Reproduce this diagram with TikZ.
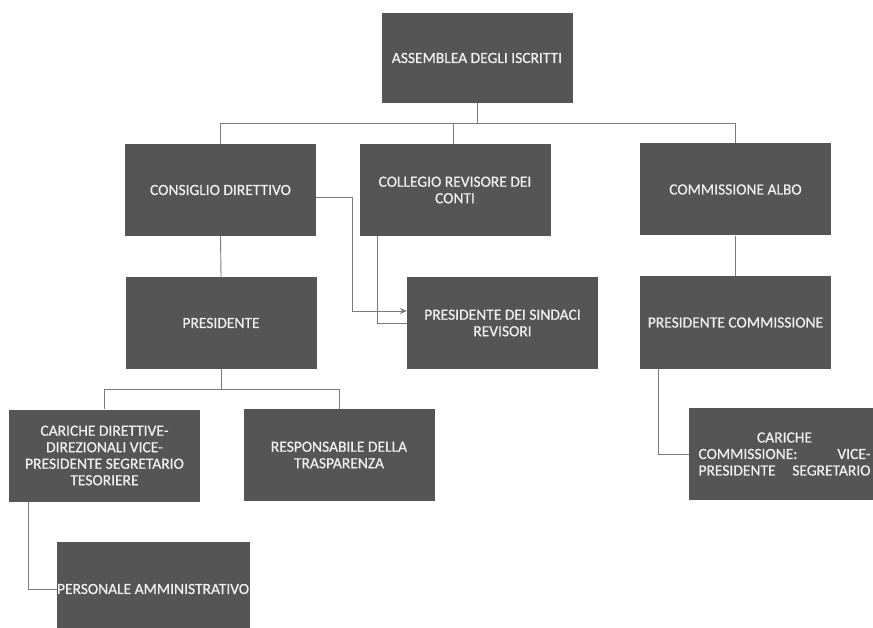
\documentclass[tikz,border=0pt]{standalone}
\usepackage{fontspec}
\setmainfont[FakeBold=0.7]{Carlito}
\usetikzlibrary{arrows.meta}
\definecolor{boxgray}{HTML}{555555}
\definecolor{linegray}{HTML}{7A7A7A}
\definecolor{textgray}{HTML}{EEEEEE}
\begin{document}
\begin{tikzpicture}[x=1pt,y=-1pt,
  carica/.style={fill=boxgray,text=textgray,minimum width=191pt,minimum height=92pt,inner sep=3pt,align=center,font=\fontsize{15.5}{16.5}\selectfont},
  conn/.style={draw=linegray,line width=0.9pt}]
\useasboundingbox (0,0) rectangle (873,628);
\clip (0,0) rectangle (873,628);
\fill[white] (0,0) rectangle (873,628);
\node[carica,minimum height=90pt] (assemblea) at (477,58) {ASSEMBLEA DEGLI ISCRITTI};
\node[carica] (consiglio) at (220.5,190) {CONSIGLIO DIRETTIVO};
\node[carica] (collegio) at (455,190) {COLLEGIO REVISORE DEI\\CONTI};
\node[carica] (albo) at (735.5,189.5) {COMMISSIONE ALBO};
\node[carica] (presidente) at (221,323) {PRESIDENTE};
\node[carica] (sindaci) at (502.5,323) {PRESIDENTE DEI SINDACI\\REVISORI};
\node[carica] (prescomm) at (735.5,322.5) {PRESIDENTE COMMISSIONE};
\node[carica] (cariche) at (104.5,455.5) {CARICHE DIRETTIVE-\\DIREZIONALI VICE-\\PRESIDENTE SEGRETARIO\\TESORIERE};
\node[carica] (trasparenza) at (339,455) {RESPONSABILE DELLA\\TRASPARENZA};
\node[carica,minimum width=193pt,minimum height=94pt,inner sep=0pt] (personale) at (153.5,589) {\makebox[193pt][l]{PERSONALE AMMINISTRATIVO}};
\node[carica,text width=172pt] (caricomm) at (784.5,454) {\makebox[172pt]{CARICHE}\\\makebox[172pt][s]{COMMISSIONE:\hfill VICE-}\\\makebox[172pt][s]{PRESIDENTE\hfill SEGRETARIO}};
% collegamenti
\draw[conn] (assemblea.south) -- ++(0,20) coordinate (snodo);
\draw[conn] (snodo) -| (consiglio.north);
\draw[conn] (snodo) -| ([xshift=-2pt]collegio.north);
\draw[conn] (snodo) -| (albo.north);
\draw[conn] (consiglio.south) -- (presidente.north);
\draw[conn,->,>={Stealth[length=7pt,width=6pt]}] ([yshift=-7pt]consiglio.east) -- ++(36,0) |- ([yshift=12pt]sindaci.west);
\draw[conn] ([xshift=-78pt]collegio.south) |- (sindaci.west);
\draw[conn] (albo.south) -- (prescomm.north);
\draw[conn] (presidente.south) -- ++(0,20) coordinate (snodob);
\draw[conn] (snodob) -| (cariche.north);
\draw[conn] (snodob) -| (trasparenza.north);
\draw[conn] ([xshift=20pt]cariche.south west) |- (personale.west);
\draw[conn] ([xshift=19pt]prescomm.south west) |- (caricomm.west);
\end{tikzpicture}
\end{document}
